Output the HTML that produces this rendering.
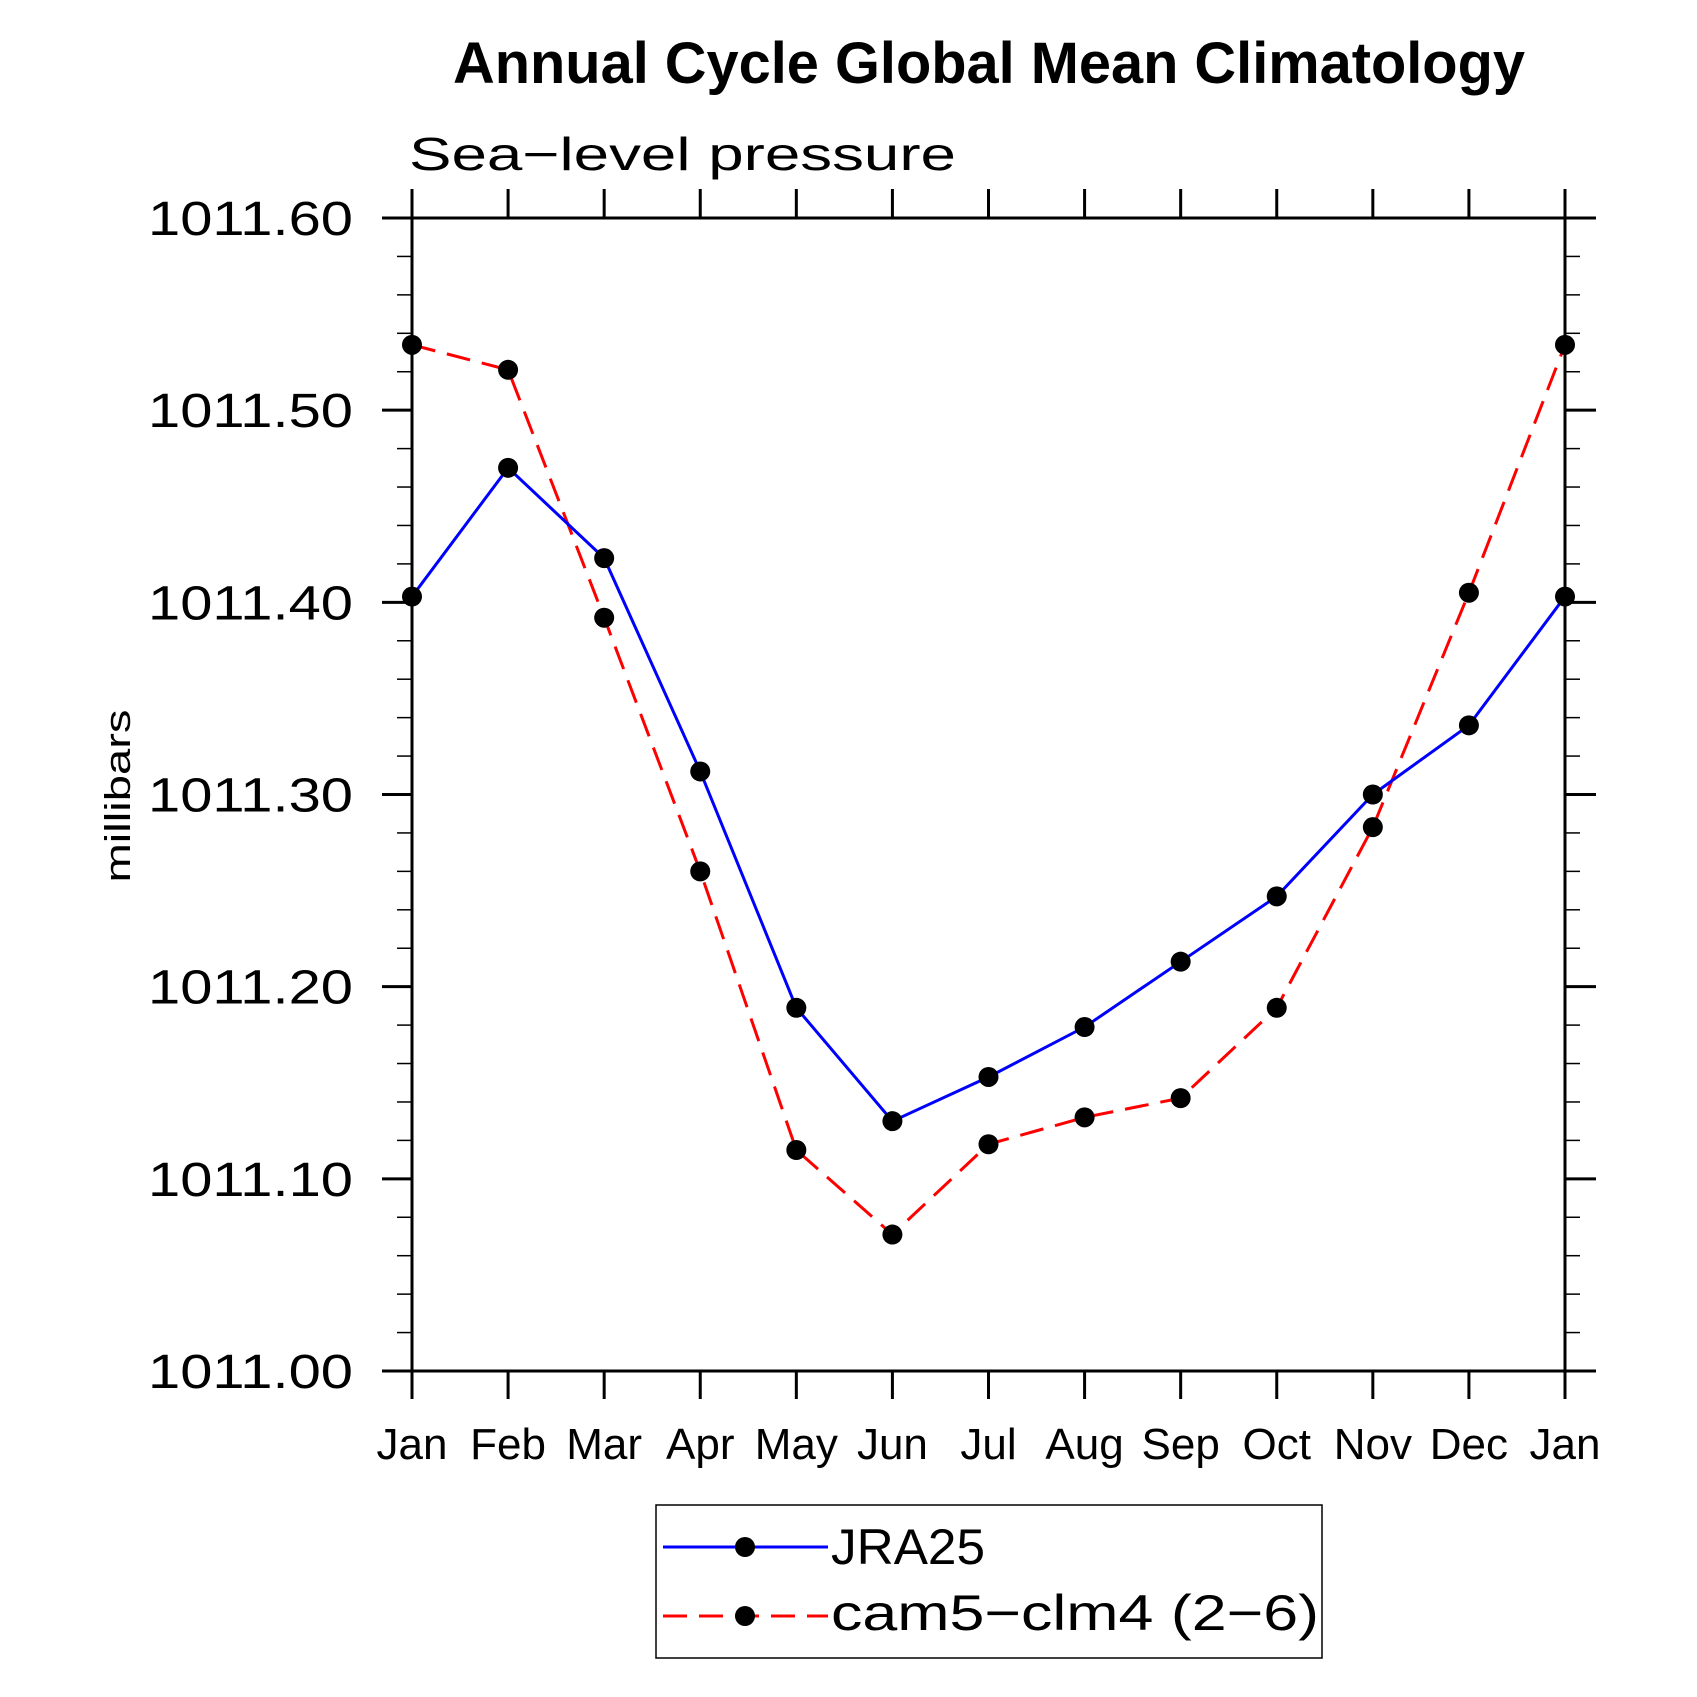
<!DOCTYPE html>
<html><head><meta charset="utf-8"><style>
html,body{margin:0;padding:0;background:#fff;}
svg{display:block;font-family:"Liberation Sans",sans-serif;}
</style></head><body>
<svg id="chart" width="1697" height="1697" viewBox="0 0 1697 1697" xmlns="http://www.w3.org/2000/svg">
<text x="989" y="83" text-anchor="middle" font-size="58" font-weight="bold" textLength="1072" lengthAdjust="spacingAndGlyphs">Annual Cycle Global Mean Climatology</text>
<text x="409" y="170" font-size="46" textLength="547" lengthAdjust="spacingAndGlyphs">Sea−level pressure</text>
<text transform="translate(130,796) rotate(-90)" text-anchor="middle" font-size="36" textLength="173" lengthAdjust="spacingAndGlyphs">millibars</text>
<g id="axes"></g>
<g id="series"></g>
<g>
<rect x="656" y="1505" width="666" height="153" fill="none" stroke="#000" stroke-width="1.5"/>
<g>
<line x1="663" y1="1547" x2="828" y2="1547" stroke="#0000ff" stroke-width="3"/>
<circle cx="745" cy="1547" r="10" fill="#000"/>
<text x="831" y="1564" font-size="50" textLength="154" lengthAdjust="spacingAndGlyphs">JRA25</text>
</g>
<g>
<line x1="663" y1="1616" x2="828" y2="1616" stroke="#ff0000" stroke-width="3" stroke-dasharray="24,12"/>
<circle cx="745" cy="1616" r="10" fill="#000"/>
<text x="831" y="1630" font-size="50" textLength="488" lengthAdjust="spacingAndGlyphs">cam5−clm4 (2−6)</text>
</g>
</g>
</svg>
<script>
const months = ["Jan","Feb","Mar","Apr","May","Jun","Jul","Aug","Sep","Oct","Nov","Dec","Jan"];
const jra25 = [1011.403,1011.470,1011.423,1011.312,1011.189,1011.130,1011.153,1011.179,1011.213,1011.247,1011.300,1011.336,1011.403];
const cam5 = [1011.534,1011.521,1011.392,1011.260,1011.115,1011.071,1011.118,1011.132,1011.142,1011.189,1011.283,1011.405,1011.534];
const yTicks = [1011.0,1011.1,1011.2,1011.3,1011.4,1011.5,1011.6];
const yTickLabels = ["1011.00","1011.10","1011.20","1011.30","1011.40","1011.50","1011.60"];

const NS="http://www.w3.org/2000/svg";
const L=412,R=1565,T=218,B=1371,yMin=1011.0,yMax=1011.6;
function xs(i){return L+(R-L)*i/(months.length-1);}
function ys(v){return B-(v-yMin)/(yMax-yMin)*(B-T);}
function mk(tag,attrs,parent){const e=document.createElementNS(NS,tag);for(const k in attrs)e.setAttribute(k,attrs[k]);parent.appendChild(e);return e;}
const axes=document.getElementById('axes');
const frame=mk('rect',{x:L,y:T,width:R-L,height:B-T,fill:'none',stroke:'#000','stroke-width':3},axes);


for(let k=0;k<=30;k++){
  const v=yMin+k*0.02, y=ys(v);
  if(k%5===0) continue;
  const a=mk('line',{x1:L-15,y1:y,x2:L,y2:y,stroke:'#000','stroke-width':1.5},axes);
  
  
  const b=mk('line',{x1:R,y1:y,x2:R+15,y2:y,stroke:'#000','stroke-width':1.5},axes);
  
  
}
yTicks.forEach((v,i)=>{
  const y=ys(v);
  const a=mk('line',{x1:L-30,y1:y,x2:L,y2:y,stroke:'#000','stroke-width':3},axes);
  
  
  const b=mk('line',{x1:R,y1:y,x2:R+31,y2:y,stroke:'#000','stroke-width':3},axes);
  
  
  const t=mk('text',{x:353,y:y+17,'text-anchor':'end','font-size':48,textLength:205,lengthAdjust:'spacingAndGlyphs'},axes);
  t.textContent=yTickLabels[i];
  
  
});
months.forEach((m,i)=>{
  const x=xs(i);
  const a=mk('line',{x1:x,y1:B,x2:x,y2:B+28,stroke:'#000','stroke-width':3},axes);
  
  
  const b=mk('line',{x1:x,y1:T-29,x2:x,y2:T,stroke:'#000','stroke-width':3},axes);
  
  
  const t=mk('text',{x:x,y:1459,'text-anchor':'middle','font-size':44},axes);
  t.textContent=m;
  
  
});
const series=document.getElementById('series');
function draw(vals,color,dash,name){
  const pts=vals.map((v,i)=>xs(i)+','+ys(v)).join(' ');
  const p=mk('polyline',{points:pts,fill:'none',stroke:color,'stroke-width':3,'stroke-dasharray':dash},series);
  
  
  vals.forEach((v,i)=>{
    const c=mk('circle',{cx:xs(i),cy:ys(v),r:10,fill:'#000'},series);
    
    
  });
}
draw(cam5,'#ff0000','24,12','cam5-clm4');
draw(jra25,'#0000ff','none','jra25');
</script>
</body></html>
